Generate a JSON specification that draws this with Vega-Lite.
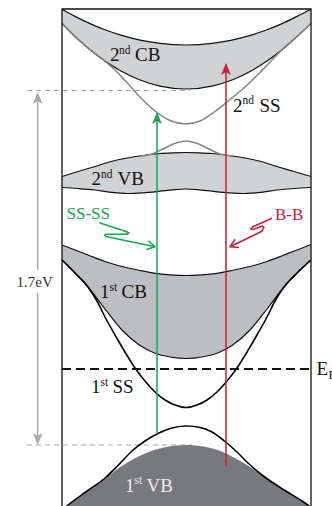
{
"$schema": "https://vega.github.io/schema/vega-lite/v6.json",
"width": 332, "height": 506, "padding": 0,
"autosize": {"type": "fit", "contains": "padding"},
"background": "white",
"config": {"view": {"stroke": null}},
"datasets": {
"bands": [
{"band":"CB2","x":62,"top":9.3,"bot":23.5},{"band":"CB2","x":75,"top":16.4,"bot":36.5},{"band":"CB2","x":90,"top":23.6,"bot":49.7},{"band":"CB2","x":105,"top":29.8,"bot":61.1},{"band":"CB2","x":120,"top":34.9,"bot":70.5},{"band":"CB2","x":140,"top":40.1,"bot":80},{"band":"CB2","x":160,"top":43.4,"bot":86.1},{"band":"CB2","x":186,"top":45,"bot":89},{"band":"CB2","x":212,"top":43.4,"bot":86.1},{"band":"CB2","x":232,"top":40.1,"bot":80},{"band":"CB2","x":252,"top":34.9,"bot":70.5},{"band":"CB2","x":267,"top":29.8,"bot":61.1},{"band":"CB2","x":282,"top":23.6,"bot":49.7},{"band":"CB2","x":297,"top":16.4,"bot":36.5},{"band":"CB2","x":311,"top":9.3,"bot":23.5},
{"band":"VB2","x":62,"top":176.5,"bot":187.5},{"band":"VB2","x":78,"top":171.5,"bot":188.5},{"band":"VB2","x":95,"top":166.5,"bot":190},{"band":"VB2","x":111,"top":161.5,"bot":192.3},{"band":"VB2","x":127,"top":158,"bot":193.5},{"band":"VB2","x":143,"top":155.5,"bot":192.8},{"band":"VB2","x":160,"top":153.5,"bot":191.2},{"band":"VB2","x":173,"top":152.8,"bot":189.8},{"band":"VB2","x":186,"top":152.5,"bot":189},{"band":"VB2","x":199,"top":152.8,"bot":189.8},{"band":"VB2","x":212,"top":153.5,"bot":191.2},{"band":"VB2","x":229,"top":155.5,"bot":192.8},{"band":"VB2","x":245,"top":158,"bot":193.5},{"band":"VB2","x":261,"top":161.5,"bot":192.3},{"band":"VB2","x":277,"top":166.5,"bot":190},{"band":"VB2","x":294,"top":171.5,"bot":188.5},{"band":"VB2","x":311,"top":176.5,"bot":187.5},
{"band":"CB1","x":62,"top":245,"bot":260},{"band":"CB1","x":75,"top":250,"bot":273},{"band":"CB1","x":88,"top":255,"bot":287},{"band":"CB1","x":105,"top":261.5,"bot":309},{"band":"CB1","x":122,"top":266.5,"bot":330},{"band":"CB1","x":140,"top":270.5,"bot":345.5},{"band":"CB1","x":155,"top":273.3,"bot":353.3},{"band":"CB1","x":170,"top":274.8,"bot":357},{"band":"CB1","x":186,"top":275.5,"bot":358.5},{"band":"CB1","x":202,"top":274.8,"bot":357},{"band":"CB1","x":217,"top":273.3,"bot":353.3},{"band":"CB1","x":232,"top":270.5,"bot":345.5},{"band":"CB1","x":250,"top":266.5,"bot":330},{"band":"CB1","x":267,"top":261.5,"bot":309},{"band":"CB1","x":284,"top":255,"bot":287},{"band":"CB1","x":297,"top":250,"bot":273},{"band":"CB1","x":311,"top":244.5,"bot":260},
{"band":"VB1","x":62,"top":510,"bot":520},{"band":"VB1","x":68,"top":505,"bot":520},{"band":"VB1","x":85,"top":492.5,"bot":520},{"band":"VB1","x":105,"top":478,"bot":520},{"band":"VB1","x":125,"top":464,"bot":520},{"band":"VB1","x":145,"top":453.5,"bot":520},{"band":"VB1","x":165,"top":447.3,"bot":520},{"band":"VB1","x":186,"top":445,"bot":520},{"band":"VB1","x":205,"top":446.8,"bot":520},{"band":"VB1","x":222,"top":451.7,"bot":520},{"band":"VB1","x":242,"top":462,"bot":520},{"band":"VB1","x":262,"top":475,"bot":520},{"band":"VB1","x":285,"top":490.5,"bot":520},{"band":"VB1","x":305,"top":503,"bot":520},{"band":"VB1","x":311,"top":507.5,"bot":520}
],
"curves": [
{"c":"SS1","kind":"black","x":62,"y":260},{"c":"SS1","kind":"black","x":75,"y":273},{"c":"SS1","kind":"black","x":88,"y":287},{"c":"SS1","kind":"black","x":97,"y":301},{"c":"SS1","kind":"black","x":105,"y":317},{"c":"SS1","kind":"black","x":115,"y":335},{"c":"SS1","kind":"black","x":125,"y":352},{"c":"SS1","kind":"black","x":135,"y":368},{"c":"SS1","kind":"black","x":145,"y":381},{"c":"SS1","kind":"black","x":155,"y":392},{"c":"SS1","kind":"black","x":165,"y":400},{"c":"SS1","kind":"black","x":175,"y":405},{"c":"SS1","kind":"black","x":186,"y":407.5},{"c":"SS1","kind":"black","x":197,"y":405},{"c":"SS1","kind":"black","x":207,"y":400},{"c":"SS1","kind":"black","x":217,"y":392},{"c":"SS1","kind":"black","x":227,"y":381},{"c":"SS1","kind":"black","x":237,"y":368},{"c":"SS1","kind":"black","x":247,"y":352},{"c":"SS1","kind":"black","x":257,"y":335},{"c":"SS1","kind":"black","x":267,"y":317},{"c":"SS1","kind":"black","x":275,"y":301},{"c":"SS1","kind":"black","x":284,"y":287},{"c":"SS1","kind":"black","x":297,"y":273},{"c":"SS1","kind":"black","x":311,"y":260},
{"c":"H1","kind":"black","x":62,"y":510},{"c":"H1","kind":"black","x":68,"y":505},{"c":"H1","kind":"black","x":85,"y":492.5},{"c":"H1","kind":"black","x":105,"y":478},{"c":"H1","kind":"black","x":118,"y":465.5},{"c":"H1","kind":"black","x":132,"y":451},{"c":"H1","kind":"black","x":145,"y":441},{"c":"H1","kind":"black","x":157,"y":434},{"c":"H1","kind":"black","x":170,"y":428.5},{"c":"H1","kind":"black","x":186,"y":426},{"c":"H1","kind":"black","x":200,"y":427.5},{"c":"H1","kind":"black","x":212,"y":432},{"c":"H1","kind":"black","x":225,"y":441.5},{"c":"H1","kind":"black","x":237,"y":452},{"c":"H1","kind":"black","x":248,"y":463},{"c":"H1","kind":"black","x":262,"y":475},{"c":"H1","kind":"black","x":285,"y":490.5},{"c":"H1","kind":"black","x":305,"y":503},{"c":"H1","kind":"black","x":311,"y":507.5},
{"c":"SS2u","kind":"gray","x":62,"y":23.5},{"c":"SS2u","kind":"gray","x":75,"y":36.5},{"c":"SS2u","kind":"gray","x":90,"y":49.7},{"c":"SS2u","kind":"gray","x":105,"y":61.1},{"c":"SS2u","kind":"gray","x":115,"y":70},{"c":"SS2u","kind":"gray","x":125,"y":80.5},{"c":"SS2u","kind":"gray","x":140,"y":97},{"c":"SS2u","kind":"gray","x":155,"y":111},{"c":"SS2u","kind":"gray","x":170,"y":120.5},{"c":"SS2u","kind":"gray","x":186,"y":124},{"c":"SS2u","kind":"gray","x":200,"y":121},{"c":"SS2u","kind":"gray","x":215,"y":111.5},{"c":"SS2u","kind":"gray","x":230,"y":99.5},{"c":"SS2u","kind":"gray","x":245,"y":87},{"c":"SS2u","kind":"gray","x":260,"y":72.5},{"c":"SS2u","kind":"gray","x":272,"y":60},{"c":"SS2u","kind":"gray","x":282,"y":49.7},{"c":"SS2u","kind":"gray","x":297,"y":36.5},{"c":"SS2u","kind":"gray","x":311,"y":23.5},
{"c":"SS2l","kind":"gray","x":140,"y":156.3},{"c":"SS2l","kind":"gray","x":152,"y":154},{"c":"SS2l","kind":"gray","x":164,"y":148.5},{"c":"SS2l","kind":"gray","x":176,"y":143},{"c":"SS2l","kind":"gray","x":186,"y":141},{"c":"SS2l","kind":"gray","x":196,"y":143},{"c":"SS2l","kind":"gray","x":208,"y":148.5},{"c":"SS2l","kind":"gray","x":220,"y":154},{"c":"SS2l","kind":"gray","x":232,"y":156}
],
"segs": [
{"c":"frame","kind":"frame","i":0,"x":62,"y":510},{"c":"frame","kind":"frame","i":1,"x":62,"y":9},{"c":"frame","kind":"frame","i":2,"x":311,"y":9},{"c":"frame","kind":"frame","i":3,"x":311,"y":510},
{"c":"ef","kind":"ef","i":0,"x":62,"y":369},{"c":"ef","kind":"ef","i":1,"x":311,"y":369},
{"c":"g1","kind":"guide","i":0,"x":27,"y":90.5},{"c":"g1","kind":"guide","i":1,"x":190,"y":90.5},
{"c":"g2","kind":"guide","i":0,"x":27,"y":445},{"c":"g2","kind":"guide","i":1,"x":192,"y":445},
{"c":"gv","kind":"ssss","i":0,"x":157,"y":434},{"c":"gv","kind":"ssss","i":1,"x":157,"y":121},
{"c":"gsq","kind":"ssss","i":0,"x":99.3,"y":222.7},{"c":"gsq","kind":"ssss","i":1,"x":126,"y":231.5},{"c":"gsq","kind":"ssss","i":2,"x":129,"y":233},{"c":"gsq","kind":"ssss","i":3,"x":127,"y":234.2},{"c":"gsq","kind":"ssss","i":4,"x":106,"y":234.2},{"c":"gsq","kind":"ssss","i":5,"x":104.5,"y":235.3},{"c":"gsq","kind":"ssss","i":6,"x":106,"y":236.6},{"c":"gsq","kind":"ssss","i":7,"x":155,"y":246.7},
{"c":"gh","kind":"ssss","i":0,"x":148.3,"y":240.7},{"c":"gh","kind":"ssss","i":1,"x":155,"y":246.7},{"c":"gh","kind":"ssss","i":2,"x":146.4,"y":249.5},
{"c":"rv","kind":"bb","i":0,"x":226,"y":467},{"c":"rv","kind":"bb","i":1,"x":226,"y":72},
{"c":"rsq","kind":"bb","i":0,"x":272,"y":218.3},{"c":"rsq","kind":"bb","i":1,"x":253,"y":226.8},{"c":"rsq","kind":"bb","i":2,"x":250.7,"y":229},{"c":"rsq","kind":"bb","i":3,"x":253,"y":229.6},{"c":"rsq","kind":"bb","i":4,"x":262.5,"y":226},{"c":"rsq","kind":"bb","i":5,"x":264,"y":227.3},{"c":"rsq","kind":"bb","i":6,"x":261.5,"y":231.5},{"c":"rsq","kind":"bb","i":7,"x":230,"y":246.7},
{"c":"rh","kind":"bb","i":0,"x":239,"y":247.4},{"c":"rh","kind":"bb","i":1,"x":230,"y":246.7},{"c":"rh","kind":"bb","i":2,"x":235.1,"y":239.3},
{"c":"ga","kind":"gap","i":0,"x":37.7,"y":100},{"c":"ga","kind":"gap","i":1,"x":37.7,"y":270},
{"c":"gb","kind":"gap","i":0,"x":37.7,"y":293},{"c":"gb","kind":"gap","i":1,"x":37.7,"y":437}
],
"heads": [
{"kind":"ssss","dir":"up","x":157,"y":119},
{"kind":"bb","dir":"up","x":226,"y":70},
{"kind":"gap","dir":"up","x":37.7,"y":99},
{"kind":"gap","dir":"down","x":37.7,"y":438}
],
"labels": [
{"role":"main","t":"2","x":110,"y":61},{"role":"sup","t":"nd","x":119,"y":53.5},{"role":"main","t":"CB","x":135,"y":61},
{"role":"main","t":"2","x":233,"y":111.5},{"role":"sup","t":"nd","x":242.5,"y":104},{"role":"main","t":"SS","x":259.5,"y":111.5},
{"role":"main","t":"2","x":91.5,"y":185},{"role":"sup","t":"nd","x":101,"y":178},{"role":"main","t":"VB","x":117.5,"y":185},
{"role":"ssss","t":"SS-SS","x":66.5,"y":219},
{"role":"bb","t":"B-B","x":275,"y":219.5},
{"role":"main","t":"1","x":100,"y":298.3},{"role":"sup","t":"st","x":109.5,"y":290.5},{"role":"main","t":"CB","x":121.5,"y":298.3},
{"role":"main","t":"1","x":91,"y":393.3},{"role":"sup","t":"st","x":100.5,"y":385.5},{"role":"main","t":"SS","x":112.5,"y":393.3},
{"role":"mainL","t":"1","x":125,"y":491.7},{"role":"supL","t":"st","x":134.5,"y":484},{"role":"mainL","t":"VB","x":146.5,"y":491.7},
{"role":"gap","t":"1.7eV","x":16.5,"y":287},
{"role":"main","t":"E","x":316.5,"y":375},{"role":"efsub","t":"F","x":328.5,"y":379}
]
},
"layer": [
{"data":{"name":"segs"},"transform":[{"filter":"datum.kind == 'guide'"}],
 "mark":{"type":"line","clip":true,"color":"#a6a6a6","strokeWidth":1.2,"strokeDash":[5,4]},
 "encoding":{"x":{"field":"x","type":"quantitative","scale":{"domain":[0,332],"nice":false,"zero":false},"axis":null},
  "y":{"field":"y","type":"quantitative","scale":{"domain":[0,506],"reverse":true,"nice":false,"zero":false},"axis":null},
  "detail":{"field":"c"},"order":{"field":"i"}}},
{"data":{"name":"bands"},
 "mark":{"type":"area","interpolate":"monotone","clip":true},
 "encoding":{"x":{"field":"x","type":"quantitative","scale":{"domain":[0,332],"nice":false,"zero":false},"axis":null},
  "y":{"field":"top","type":"quantitative","stack":null,"scale":{"domain":[0,506],"reverse":true,"nice":false,"zero":false},"axis":null},
  "y2":{"field":"bot"},
  "color":{"field":"band","type":"nominal","scale":{"domain":["CB2","VB2","CB1","VB1"],"range":["#d1d2d4","#d1d2d4","#bdbec1","#78797d"]},"legend":null}}},
{"data":{"name":"bands"},"transform":[{"filter":"datum.band != 'VB1'"}],
 "mark":{"type":"line","interpolate":"monotone","clip":true,"color":"#111111","strokeWidth":1.2},
 "encoding":{"x":{"field":"x","type":"quantitative","scale":{"domain":[0,332],"nice":false,"zero":false},"axis":null},
  "y":{"field":"top","type":"quantitative","scale":{"domain":[0,506],"reverse":true,"nice":false,"zero":false},"axis":null},
  "detail":{"field":"band"}}},
{"data":{"name":"bands"},"transform":[{"filter":"datum.band != 'VB1'"}],
 "mark":{"type":"line","interpolate":"monotone","clip":true,"color":"#111111","strokeWidth":1.2},
 "encoding":{"x":{"field":"x","type":"quantitative","scale":{"domain":[0,332],"nice":false,"zero":false},"axis":null},
  "y":{"field":"bot","type":"quantitative","scale":{"domain":[0,506],"reverse":true,"nice":false,"zero":false},"axis":null},
  "detail":{"field":"band"}}},
{"data":{"name":"curves"},"transform":[{"filter":"datum.kind == 'black'"}],
 "mark":{"type":"line","interpolate":"monotone","clip":true,"color":"#000000","strokeWidth":1.6},
 "encoding":{"x":{"field":"x","type":"quantitative","scale":{"domain":[0,332],"nice":false,"zero":false},"axis":null},
  "y":{"field":"y","type":"quantitative","scale":{"domain":[0,506],"reverse":true,"nice":false,"zero":false},"axis":null},
  "detail":{"field":"c"}}},
{"data":{"name":"curves"},"transform":[{"filter":"datum.kind == 'gray'"}],
 "mark":{"type":"line","interpolate":"monotone","clip":true,"color":"#858585","strokeWidth":1.5},
 "encoding":{"x":{"field":"x","type":"quantitative","scale":{"domain":[0,332],"nice":false,"zero":false},"axis":null},
  "y":{"field":"y","type":"quantitative","scale":{"domain":[0,506],"reverse":true,"nice":false,"zero":false},"axis":null},
  "detail":{"field":"c"}}},
{"data":{"name":"segs"},"transform":[{"filter":"datum.kind == 'ef'"}],
 "mark":{"type":"line","clip":true,"color":"#111111","strokeWidth":1.8,"strokeDash":[9,5]},
 "encoding":{"x":{"field":"x","type":"quantitative","scale":{"domain":[0,332],"nice":false,"zero":false},"axis":null},
  "y":{"field":"y","type":"quantitative","scale":{"domain":[0,506],"reverse":true,"nice":false,"zero":false},"axis":null},
  "detail":{"field":"c"},"order":{"field":"i"}}},
{"data":{"name":"segs"},"transform":[{"filter":"datum.kind == 'frame'"}],
 "mark":{"type":"line","clip":true,"color":"#111111","strokeWidth":1.3},
 "encoding":{"x":{"field":"x","type":"quantitative","scale":{"domain":[0,332],"nice":false,"zero":false},"axis":null},
  "y":{"field":"y","type":"quantitative","scale":{"domain":[0,506],"reverse":true,"nice":false,"zero":false},"axis":null},
  "detail":{"field":"c"},"order":{"field":"i"}}},
{"data":{"name":"segs"},"transform":[{"filter":"datum.kind == 'ssss'"}],
 "mark":{"type":"line","clip":true,"color":"#1aa64f","strokeWidth":1.5,"strokeJoin":"round"},
 "encoding":{"x":{"field":"x","type":"quantitative","scale":{"domain":[0,332],"nice":false,"zero":false},"axis":null},
  "y":{"field":"y","type":"quantitative","scale":{"domain":[0,506],"reverse":true,"nice":false,"zero":false},"axis":null},
  "detail":{"field":"c"},"order":{"field":"i"}}},
{"data":{"name":"segs"},"transform":[{"filter":"datum.kind == 'bb'"}],
 "mark":{"type":"line","clip":true,"color":"#c41e3a","strokeWidth":1.5,"strokeJoin":"round"},
 "encoding":{"x":{"field":"x","type":"quantitative","scale":{"domain":[0,332],"nice":false,"zero":false},"axis":null},
  "y":{"field":"y","type":"quantitative","scale":{"domain":[0,506],"reverse":true,"nice":false,"zero":false},"axis":null},
  "detail":{"field":"c"},"order":{"field":"i"}}},
{"data":{"name":"segs"},"transform":[{"filter":"datum.kind == 'gap'"}],
 "mark":{"type":"line","clip":true,"color":"#a9a9a9","strokeWidth":1.4},
 "encoding":{"x":{"field":"x","type":"quantitative","scale":{"domain":[0,332],"nice":false,"zero":false},"axis":null},
  "y":{"field":"y","type":"quantitative","scale":{"domain":[0,506],"reverse":true,"nice":false,"zero":false},"axis":null},
  "detail":{"field":"c"},"order":{"field":"i"}}},
{"data":{"name":"heads"},"transform":[{"filter":"datum.kind == 'ssss'"}],
 "mark":{"type":"point","shape":"M0,-1L0.7,0.7L0,0.3L-0.7,0.7Z","filled":true,"fill":"#1aa64f","fillOpacity":1,"strokeWidth":0,"size":196},
 "encoding":{"x":{"field":"x","type":"quantitative","scale":{"domain":[0,332],"nice":false,"zero":false},"axis":null},
  "y":{"field":"y","type":"quantitative","scale":{"domain":[0,506],"reverse":true,"nice":false,"zero":false},"axis":null}}},
{"data":{"name":"heads"},"transform":[{"filter":"datum.kind == 'bb'"}],
 "mark":{"type":"point","shape":"M0,-1L0.7,0.7L0,0.3L-0.7,0.7Z","filled":true,"fill":"#c41e3a","fillOpacity":1,"strokeWidth":0,"size":196},
 "encoding":{"x":{"field":"x","type":"quantitative","scale":{"domain":[0,332],"nice":false,"zero":false},"axis":null},
  "y":{"field":"y","type":"quantitative","scale":{"domain":[0,506],"reverse":true,"nice":false,"zero":false},"axis":null}}},
{"data":{"name":"heads"},"transform":[{"filter":"datum.kind == 'gap' && datum.dir == 'up'"}],
 "mark":{"type":"point","shape":"M0,-1L0.7,0.7L0,0.3L-0.7,0.7Z","filled":true,"fill":"#a9a9a9","fillOpacity":1,"strokeWidth":0,"size":196},
 "encoding":{"x":{"field":"x","type":"quantitative","scale":{"domain":[0,332],"nice":false,"zero":false},"axis":null},
  "y":{"field":"y","type":"quantitative","scale":{"domain":[0,506],"reverse":true,"nice":false,"zero":false},"axis":null}}},
{"data":{"name":"heads"},"transform":[{"filter":"datum.kind == 'gap' && datum.dir == 'down'"}],
 "mark":{"type":"point","shape":"M0,1L0.7,-0.7L0,-0.3L-0.7,-0.7Z","filled":true,"fill":"#a9a9a9","fillOpacity":1,"strokeWidth":0,"size":196},
 "encoding":{"x":{"field":"x","type":"quantitative","scale":{"domain":[0,332],"nice":false,"zero":false},"axis":null},
  "y":{"field":"y","type":"quantitative","scale":{"domain":[0,506],"reverse":true,"nice":false,"zero":false},"axis":null}}},
{"data":{"name":"labels"},"transform":[{"filter":"datum.role == 'main'"}],
 "mark":{"type":"text","align":"left","baseline":"alphabetic","font":"Liberation Serif","fontSize":19,"color":"#111111","clip":true},
 "encoding":{"x":{"field":"x","type":"quantitative","scale":{"domain":[0,332],"nice":false,"zero":false},"axis":null},
  "y":{"field":"y","type":"quantitative","scale":{"domain":[0,506],"reverse":true,"nice":false,"zero":false},"axis":null},
  "text":{"field":"t"}}},
{"data":{"name":"labels"},"transform":[{"filter":"datum.role == 'sup'"}],
 "mark":{"type":"text","align":"left","baseline":"alphabetic","font":"Liberation Serif","fontSize":11.5,"color":"#111111","clip":true},
 "encoding":{"x":{"field":"x","type":"quantitative","scale":{"domain":[0,332],"nice":false,"zero":false},"axis":null},
  "y":{"field":"y","type":"quantitative","scale":{"domain":[0,506],"reverse":true,"nice":false,"zero":false},"axis":null},
  "text":{"field":"t"}}},
{"data":{"name":"labels"},"transform":[{"filter":"datum.role == 'mainL'"}],
 "mark":{"type":"text","align":"left","baseline":"alphabetic","font":"Liberation Serif","fontSize":19,"color":"#ebebeb","clip":true},
 "encoding":{"x":{"field":"x","type":"quantitative","scale":{"domain":[0,332],"nice":false,"zero":false},"axis":null},
  "y":{"field":"y","type":"quantitative","scale":{"domain":[0,506],"reverse":true,"nice":false,"zero":false},"axis":null},
  "text":{"field":"t"}}},
{"data":{"name":"labels"},"transform":[{"filter":"datum.role == 'supL'"}],
 "mark":{"type":"text","align":"left","baseline":"alphabetic","font":"Liberation Serif","fontSize":11.5,"color":"#ebebeb","clip":true},
 "encoding":{"x":{"field":"x","type":"quantitative","scale":{"domain":[0,332],"nice":false,"zero":false},"axis":null},
  "y":{"field":"y","type":"quantitative","scale":{"domain":[0,506],"reverse":true,"nice":false,"zero":false},"axis":null},
  "text":{"field":"t"}}},
{"data":{"name":"labels"},"transform":[{"filter":"datum.role == 'ssss'"}],
 "mark":{"type":"text","align":"left","baseline":"alphabetic","font":"Liberation Serif","fontSize":17,"color":"#1aa64f","clip":true},
 "encoding":{"x":{"field":"x","type":"quantitative","scale":{"domain":[0,332],"nice":false,"zero":false},"axis":null},
  "y":{"field":"y","type":"quantitative","scale":{"domain":[0,506],"reverse":true,"nice":false,"zero":false},"axis":null},
  "text":{"field":"t"}}},
{"data":{"name":"labels"},"transform":[{"filter":"datum.role == 'bb'"}],
 "mark":{"type":"text","align":"left","baseline":"alphabetic","font":"Liberation Serif","fontSize":17,"color":"#c41e3a","clip":true},
 "encoding":{"x":{"field":"x","type":"quantitative","scale":{"domain":[0,332],"nice":false,"zero":false},"axis":null},
  "y":{"field":"y","type":"quantitative","scale":{"domain":[0,506],"reverse":true,"nice":false,"zero":false},"axis":null},
  "text":{"field":"t"}}},
{"data":{"name":"labels"},"transform":[{"filter":"datum.role == 'gap'"}],
 "mark":{"type":"text","align":"left","baseline":"alphabetic","font":"Liberation Serif","fontSize":15,"color":"#333333","clip":true},
 "encoding":{"x":{"field":"x","type":"quantitative","scale":{"domain":[0,332],"nice":false,"zero":false},"axis":null},
  "y":{"field":"y","type":"quantitative","scale":{"domain":[0,506],"reverse":true,"nice":false,"zero":false},"axis":null},
  "text":{"field":"t"}}},
{"data":{"name":"labels"},"transform":[{"filter":"datum.role == 'efsub'"}],
 "mark":{"type":"text","align":"left","baseline":"alphabetic","font":"Liberation Serif","fontSize":12.5,"color":"#111111","clip":true},
 "encoding":{"x":{"field":"x","type":"quantitative","scale":{"domain":[0,332],"nice":false,"zero":false},"axis":null},
  "y":{"field":"y","type":"quantitative","scale":{"domain":[0,506],"reverse":true,"nice":false,"zero":false},"axis":null},
  "text":{"field":"t"}}}
]
}
